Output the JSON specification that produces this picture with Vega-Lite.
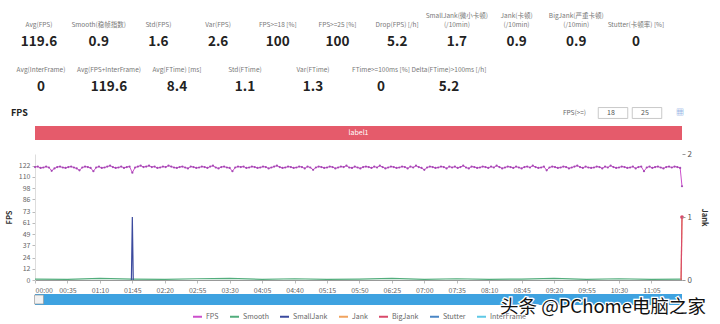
{
  "$schema": "https://vega.github.io/schema/vega-lite/v6.json",
  "background": "white",
  "padding": 5,
  "spacing": 14,
  "bounds": "flush",
  "config": {
    "view": {"stroke": null},
    "font": "Noto Sans CJK SC",
    "axis": {"labelColor": "#666", "labelFontSize": 7, "titleColor": "#333", "titleFontSize": 8, "tickColor": "#bbb", "domainColor": "#ccc", "grid": false, "tickSize": 3, "labelPadding": 2},
    "axisX": {"labelOverlap": false},
    "axisY": {"labelOverlap": false},
    "legend": {"layout": {"bottom": {"anchor": "middle"}}}
  },
  "datasets": {
    "stats": [
      {"row": 1, "slot": 0, "top": "", "label": "Avg(FPS)", "value": "119.6"},
      {"row": 1, "slot": 1, "top": "", "label": "Smooth(稳帧指数)", "value": "0.9"},
      {"row": 1, "slot": 2, "top": "", "label": "Std(FPS)", "value": "1.6"},
      {"row": 1, "slot": 3, "top": "", "label": "Var(FPS)", "value": "2.6"},
      {"row": 1, "slot": 4, "top": "", "label": "FPS>=18 [%]", "value": "100"},
      {"row": 1, "slot": 5, "top": "", "label": "FPS>=25 [%]", "value": "100"},
      {"row": 1, "slot": 6, "top": "", "label": "Drop(FPS) [/h]", "value": "5.2"},
      {"row": 1, "slot": 7, "top": "SmallJank(微小卡顿)", "label": "(/10min)", "value": "1.7"},
      {"row": 1, "slot": 8, "top": "Jank(卡顿)", "label": "(/10min)", "value": "0.9"},
      {"row": 1, "slot": 9, "top": "BigJank(严重卡顿)", "label": "(/10min)", "value": "0.9"},
      {"row": 1, "slot": 10, "top": "", "label": "Stutter(卡顿率) [%]", "value": "0"},
      {"row": 2, "slot": 0, "top": "", "label": "Avg(InterFrame)", "value": "0"},
      {"row": 2, "slot": 1, "top": "", "label": "Avg(FPS+InterFrame)", "value": "119.6"},
      {"row": 2, "slot": 2, "top": "", "label": "Avg(FTime) [ms]", "value": "8.4"},
      {"row": 2, "slot": 3, "top": "", "label": "Std(FTime)", "value": "1.1"},
      {"row": 2, "slot": 4, "top": "", "label": "Var(FTime)", "value": "1.3"},
      {"row": 2, "slot": 5, "top": "", "label": "FTime>=100ms [%]", "value": "0"},
      {"row": 2, "slot": 6, "top": "", "label": "Delta(FTime)>100ms [/h]", "value": "5.2"}
    ],
    "band": [{"label": "label1", "start": 0, "end": 698}],
    "fps": [
      {"t":0,"fps":120.5},{"t":3,"fps":121},{"t":6,"fps":119.5},{"t":9,"fps":120},{"t":12,"fps":121},{"t":15,"fps":120},{"t":18,"fps":116.5},{"t":21,"fps":119},{"t":24,"fps":120.5},{"t":27,"fps":121},
      {"t":30,"fps":120},{"t":33,"fps":119.5},{"t":36,"fps":120.5},{"t":39,"fps":121},{"t":42,"fps":120},{"t":45,"fps":119},{"t":48,"fps":117},{"t":51,"fps":120},{"t":54,"fps":121},{"t":57,"fps":120.5},
      {"t":60,"fps":119.5},{"t":63,"fps":116},{"t":66,"fps":120},{"t":69,"fps":121},{"t":72,"fps":119.5},{"t":75,"fps":120},{"t":78,"fps":121},{"t":81,"fps":122},{"t":84,"fps":120.5},{"t":87,"fps":119.5},
      {"t":90,"fps":120},{"t":93,"fps":121},{"t":96,"fps":119.5},{"t":99,"fps":120.5},{"t":102,"fps":121},{"t":105,"fps":114.5},{"t":108,"fps":120},{"t":111,"fps":121},{"t":114,"fps":122},{"t":117,"fps":120.5},
      {"t":120,"fps":121},{"t":123,"fps":122},{"t":126,"fps":120.5},{"t":129,"fps":121},{"t":132,"fps":119.5},{"t":135,"fps":120},{"t":138,"fps":121},{"t":141,"fps":120.5},{"t":144,"fps":122},{"t":147,"fps":121},
      {"t":150,"fps":120},{"t":153,"fps":119.5},{"t":156,"fps":120.5},{"t":159,"fps":121},{"t":162,"fps":120},{"t":165,"fps":119},{"t":168,"fps":121},{"t":171,"fps":120.5},{"t":174,"fps":119.5},{"t":177,"fps":120},
      {"t":180,"fps":121},{"t":183,"fps":120.5},{"t":186,"fps":119.5},{"t":189,"fps":121},{"t":192,"fps":122},{"t":195,"fps":120},{"t":198,"fps":119},{"t":201,"fps":120.5},{"t":204,"fps":121},{"t":207,"fps":120},
      {"t":210,"fps":119.5},{"t":213,"fps":116},{"t":216,"fps":120},{"t":219,"fps":121},{"t":222,"fps":120.5},{"t":225,"fps":121},{"t":228,"fps":119.5},{"t":231,"fps":120},{"t":234,"fps":121},{"t":237,"fps":120.5},
      {"t":240,"fps":119.5},{"t":243,"fps":120},{"t":246,"fps":121},{"t":249,"fps":120.5},{"t":252,"fps":119},{"t":255,"fps":120},{"t":258,"fps":121},{"t":261,"fps":122},{"t":264,"fps":120.5},{"t":267,"fps":119.5},
      {"t":270,"fps":120},{"t":273,"fps":121},{"t":276,"fps":120.5},{"t":279,"fps":119.5},{"t":282,"fps":120},{"t":285,"fps":121},{"t":288,"fps":120.5},{"t":291,"fps":119},{"t":294,"fps":121},{"t":297,"fps":120},
      {"t":300,"fps":117.5},{"t":303,"fps":120},{"t":306,"fps":121},{"t":309,"fps":120.5},{"t":312,"fps":119.5},{"t":315,"fps":120},{"t":318,"fps":121},{"t":321,"fps":120.5},{"t":324,"fps":119},{"t":327,"fps":120},
      {"t":330,"fps":121},{"t":333,"fps":120.5},{"t":336,"fps":122},{"t":339,"fps":120},{"t":342,"fps":119.5},{"t":345,"fps":121},{"t":348,"fps":120},{"t":351,"fps":119},{"t":354,"fps":120.5},{"t":357,"fps":121},
      {"t":360,"fps":120.5},{"t":363,"fps":119.5},{"t":366,"fps":121},{"t":369,"fps":120},{"t":372,"fps":122},{"t":375,"fps":120.5},{"t":378,"fps":119},{"t":381,"fps":120},{"t":384,"fps":121},{"t":387,"fps":120.5},
      {"t":390,"fps":119.5},{"t":393,"fps":120},{"t":396,"fps":121},{"t":399,"fps":120.5},{"t":402,"fps":119},{"t":405,"fps":121},{"t":408,"fps":120},{"t":411,"fps":122},{"t":414,"fps":120.5},{"t":417,"fps":119.5},
      {"t":420,"fps":117.5},{"t":423,"fps":120},{"t":426,"fps":121},{"t":429,"fps":120.5},{"t":432,"fps":119.5},{"t":435,"fps":120},{"t":438,"fps":121},{"t":441,"fps":120.5},{"t":444,"fps":119},{"t":447,"fps":121},
      {"t":450,"fps":120},{"t":453,"fps":121},{"t":456,"fps":119.5},{"t":459,"fps":120.5},{"t":462,"fps":122},{"t":465,"fps":120},{"t":468,"fps":119},{"t":471,"fps":121},{"t":474,"fps":120.5},{"t":477,"fps":119.5},
      {"t":480,"fps":120},{"t":483,"fps":121},{"t":486,"fps":120.5},{"t":489,"fps":119.5},{"t":492,"fps":121},{"t":495,"fps":120},{"t":498,"fps":122},{"t":501,"fps":120.5},{"t":504,"fps":119},{"t":507,"fps":120},
      {"t":510,"fps":121},{"t":513,"fps":120.5},{"t":516,"fps":119.5},{"t":519,"fps":121},{"t":522,"fps":120},{"t":525,"fps":119},{"t":528,"fps":120.5},{"t":531,"fps":121},{"t":534,"fps":120},{"t":537,"fps":122},
      {"t":540,"fps":120.5},{"t":543,"fps":119.5},{"t":546,"fps":120},{"t":549,"fps":121},{"t":552,"fps":117},{"t":555,"fps":120},{"t":558,"fps":121},{"t":561,"fps":120.5},{"t":564,"fps":119.5},{"t":567,"fps":120},
      {"t":570,"fps":121},{"t":573,"fps":120.5},{"t":576,"fps":119},{"t":579,"fps":120},{"t":582,"fps":121},{"t":585,"fps":122},{"t":588,"fps":120.5},{"t":591,"fps":119.5},{"t":594,"fps":121},{"t":597,"fps":120},
      {"t":600,"fps":119.5},{"t":603,"fps":120},{"t":606,"fps":121},{"t":609,"fps":120.5},{"t":612,"fps":119},{"t":615,"fps":121},{"t":618,"fps":120},{"t":621,"fps":122},{"t":624,"fps":120.5},{"t":627,"fps":119.5},
      {"t":630,"fps":120},{"t":633,"fps":121},{"t":636,"fps":120.5},{"t":639,"fps":119.5},{"t":642,"fps":120},{"t":645,"fps":121},{"t":648,"fps":119},{"t":651,"fps":120.5},{"t":654,"fps":121},{"t":657,"fps":116},
      {"t":660,"fps":120},{"t":663,"fps":121},{"t":666,"fps":119.5},{"t":669,"fps":120.5},{"t":672,"fps":121},{"t":675,"fps":120},{"t":678,"fps":119},{"t":681,"fps":120.5},{"t":684,"fps":121},{"t":687,"fps":120},
      {"t":690,"fps":121},{"t":693,"fps":120.5},{"t":696,"fps":119.5},{"t":698,"fps":100}
    ],
    "jank": [
      {"series":"Smooth","t":0,"v":0.015},{"series":"Smooth","t":35,"v":0.01},{"series":"Smooth","t":70,"v":0.025},{"series":"Smooth","t":105,"v":0.015},{"series":"Smooth","t":140,"v":0.01},{"series":"Smooth","t":175,"v":0.02},{"series":"Smooth","t":210,"v":0.025},{"series":"Smooth","t":245,"v":0.01},{"series":"Smooth","t":280,"v":0.02},{"series":"Smooth","t":315,"v":0.01},{"series":"Smooth","t":350,"v":0.015},{"series":"Smooth","t":385,"v":0.025},{"series":"Smooth","t":420,"v":0.01},{"series":"Smooth","t":455,"v":0.02},{"series":"Smooth","t":490,"v":0.01},{"series":"Smooth","t":525,"v":0.015},{"series":"Smooth","t":560,"v":0.025},{"series":"Smooth","t":595,"v":0.01},{"series":"Smooth","t":630,"v":0.02},{"series":"Smooth","t":665,"v":0.01},{"series":"Smooth","t":698,"v":0.015},
      {"series":"SmallJank","t":104,"v":0},{"series":"SmallJank","t":105,"v":1},{"series":"SmallJank","t":106,"v":0},
      {"series":"Jank","t":697,"v":0},{"series":"Jank","t":698,"v":1},
      {"series":"BigJank","t":697,"v":0},{"series":"BigJank","t":698,"v":1}
    ]
  },
  "vconcat": [
    {
      "width": 647,
      "height": 107,
      "data": {"name": "stats"},
      "layer": [
        {
          "transform": [{"filter": "datum.row == 1"}],
          "mark": {"type": "text", "fontSize": 6.5, "color": "#777", "baseline": "bottom", "dy": -14},
          "encoding": {
            "x": {"field": "slot", "type": "quantitative", "scale": {"domain": [-0.067, 10.771], "nice": false, "zero": false}, "axis": null},
            "y": {"field": "row", "type": "quantitative", "scale": {"domain": [0.178, 2.556], "nice": false, "zero": false, "reverse": true}, "axis": null},
            "text": {"field": "label"}
          }
        },
        {
          "transform": [{"filter": "datum.row == 1"}],
          "mark": {"type": "text", "fontSize": 6.5, "color": "#777", "baseline": "bottom", "dy": -23},
          "encoding": {
            "x": {"field": "slot", "type": "quantitative", "scale": {"domain": [-0.067, 10.771], "nice": false, "zero": false}, "axis": null},
            "y": {"field": "row", "type": "quantitative", "scale": {"domain": [0.178, 2.556], "nice": false, "zero": false, "reverse": true}, "axis": null},
            "text": {"field": "top"}
          }
        },
        {
          "transform": [{"filter": "datum.row == 1"}],
          "mark": {"type": "text", "fontSize": 13.5, "fontWeight": "bold", "color": "#222", "baseline": "middle"},
          "encoding": {
            "x": {"field": "slot", "type": "quantitative", "scale": {"domain": [-0.067, 10.771], "nice": false, "zero": false}, "axis": null},
            "y": {"field": "row", "type": "quantitative", "scale": {"domain": [0.178, 2.556], "nice": false, "zero": false, "reverse": true}, "axis": null},
            "text": {"field": "value"}
          }
        },
        {
          "transform": [{"filter": "datum.row == 2"}],
          "mark": {"type": "text", "fontSize": 6.5, "color": "#777", "baseline": "bottom", "dy": -14},
          "encoding": {
            "x": {"field": "slot", "type": "quantitative", "scale": {"domain": [-0.088, 9.426], "nice": false, "zero": false}, "axis": null},
            "y": {"field": "row", "type": "quantitative", "scale": {"domain": [0.178, 2.556], "nice": false, "zero": false, "reverse": true}, "axis": null},
            "text": {"field": "label"}
          }
        },
        {
          "transform": [{"filter": "datum.row == 2"}],
          "mark": {"type": "text", "fontSize": 13.5, "fontWeight": "bold", "color": "#222", "baseline": "middle"},
          "encoding": {
            "x": {"field": "slot", "type": "quantitative", "scale": {"domain": [-0.088, 9.426], "nice": false, "zero": false}, "axis": null},
            "y": {"field": "row", "type": "quantitative", "scale": {"domain": [0.178, 2.556], "nice": false, "zero": false, "reverse": true}, "axis": null},
            "text": {"field": "value"}
          }
        }
      ],
      "resolve": {"scale": {"x": "independent", "y": "shared"}}
    },
    {
      "width": 647,
      "height": 14,
      "data": {"name": "band"},
      "layer": [
        {
          "mark": {"type": "rect", "color": "#e55b6b"},
          "encoding": {
            "x": {"field": "start", "type": "quantitative", "scale": {"domain": [0, 698], "nice": false, "zero": false}, "axis": null},
            "x2": {"field": "end"}
          }
        },
        {
          "mark": {"type": "text", "color": "white", "fontSize": 7},
          "encoding": {"text": {"field": "label"}}
        },
        {
          "mark": {"type": "text", "text": "FPS", "align": "left", "dx": -24, "dy": -20, "fontSize": 9, "fontWeight": "bold", "color": "#222"},
          "encoding": {"x": {"datum": 0, "type": "quantitative"}}
        },
        {
          "mark": {"type": "text", "text": "FPS(>=)", "align": "right", "dx": -96, "dy": -20, "fontSize": 6.5, "color": "#666"},
          "encoding": {"x": {"datum": 698, "type": "quantitative"}}
        },
        {
          "mark": {"type": "point", "shape": "M-1,-0.37H1V0.37H-1Z", "size": 870, "filled": true, "fill": "white", "stroke": "#bbb", "strokeWidth": 0.8, "opacity": 1, "xOffset": -69, "yOffset": -20},
          "encoding": {"x": {"datum": 698, "type": "quantitative"}}
        },
        {
          "mark": {"type": "point", "shape": "M-1,-0.37H1V0.37H-1Z", "size": 870, "filled": true, "fill": "white", "stroke": "#bbb", "strokeWidth": 0.8, "opacity": 1, "xOffset": -35, "yOffset": -20},
          "encoding": {"x": {"datum": 698, "type": "quantitative"}}
        },
        {
          "mark": {"type": "text", "text": "18", "dx": -71, "dy": -20, "fontSize": 7, "color": "#555"},
          "encoding": {"x": {"datum": 698, "type": "quantitative"}}
        },
        {
          "mark": {"type": "text", "text": "25", "dx": -37, "dy": -20, "fontSize": 7, "color": "#555"},
          "encoding": {"x": {"datum": 698, "type": "quantitative"}}
        },
        {
          "mark": {"type": "text", "text": "▦", "dx": -2, "dy": -20, "fontSize": 8, "color": "#5b8fd6"},
          "encoding": {"x": {"datum": 698, "type": "quantitative"}}
        }
      ]
    },
    {
      "width": 647,
      "height": 126,
      "layer": [
        {
          "data": {"name": "fps"},
          "encoding": {
            "x": {"field": "t", "type": "quantitative", "scale": {"domain": [0, 698], "nice": false, "zero": false},
              "axis": {"values": [0, 35, 70, 105, 140, 175, 210, 245, 280, 315, 350, 385, 420, 455, 490, 525, 560, 595, 630, 665],
                "labelExpr": "pad(floor(datum.value / 60) + '', 2, '0', 'left') + ':' + pad((datum.value % 60) + '', 2, '0', 'left')",
                "labelOverlap": false, "labelFlush": true, "title": null, "domainColor": "#999", "labelPadding": 3}},
            "y": {"field": "fps", "type": "quantitative", "scale": {"domain": [0, 134.4], "nice": false},
              "axis": {"values": [0, 12, 24, 37, 49, 61, 73, 86, 98, 110, 122], "title": "FPS", "titleFontWeight": "bold", "titleFontSize": 7.5, "titlePadding": 5, "domainColor": "#ddd"}}
          },
          "layer": [
            {
              "mark": {"type": "line", "strokeWidth": 1},
              "encoding": {
                "color": {"datum": "FPS", "type": "nominal", "title": null,
                  "scale": {"domain": ["FPS", "Smooth", "SmallJank", "Jank", "BigJank", "Stutter", "InterFrame"],
                    "range": ["#cc4fcc", "#52ad7c", "#3b4a9e", "#f0a35e", "#d94a6a", "#4a86c5", "#5ec8e6"]},
                  "legend": {"orient": "bottom", "direction": "horizontal", "title": null, "symbolType": "stroke", "symbolStrokeWidth": 2, "symbolSize": 81, "labelFontSize": 7, "labelColor": "#666", "labelOffset": 3, "columnPadding": 7, "offset": -5}}
              }
            },
            {
              "mark": {"type": "point", "filled": true, "size": 5, "color": "#9d3fae", "opacity": 0.9}
            }
          ]
        },
        {
          "data": {"name": "jank"},
          "encoding": {
            "x": {"field": "t", "type": "quantitative", "axis": {"values": [0, 35, 70, 105, 140, 175, 210, 245, 280, 315, 350, 385, 420, 455, 490, 525, 560, 595, 630, 665],
                "labelExpr": "pad(floor(datum.value / 60) + '', 2, '0', 'left') + ':' + pad((datum.value % 60) + '', 2, '0', 'left')",
                "labelOverlap": false, "labelFlush": true, "title": null, "domainColor": "#999", "labelPadding": 3}},
            "y": {"field": "v", "type": "quantitative", "scale": {"domain": [0, 2], "nice": false},
              "axis": {"orient": "right", "values": [0, 1, 2], "labelExpr": "datum.value + ''", "labelOverlap": false, "labelFlush": false, "labelBound": false, "labelBaseline": "middle", "zindex": 2, "labelColor": "#555", "labelFontSize": 8, "tickColor": "#999", "title": "Jank", "titleAngle": 90, "titleFontWeight": "bold", "titleFontSize": 7.5, "titlePadding": 8, "domain": false}}
          },
          "layer": [
            {
              "mark": {"type": "line", "strokeWidth": 1.2},
              "encoding": {
                "color": {"field": "series", "type": "nominal", "title": null},
                "detail": {"field": "series"}
              }
            },
            {
              "transform": [{"filter": "datum.series == 'BigJank' && datum.v > 0"}],
              "mark": {"type": "point", "filled": true, "size": 14, "opacity": 1},
              "encoding": {
                "color": {"field": "series", "type": "nominal", "title": null}
              }
            }
          ]
        }
      ],
      "resolve": {"scale": {"y": "independent"}}
    },
    {
      "width": 647,
      "height": 11,
      "data": {"name": "band"},
      "layer": [
        {
          "mark": {"type": "rect", "color": "#3ea2e0"},
          "encoding": {
            "x": {"field": "start", "type": "quantitative", "scale": {"domain": [0, 698], "nice": false, "zero": false}, "axis": null},
            "x2": {"field": "end"}
          }
        },
        {
          "mark": {"type": "point", "shape": "square", "size": 80, "filled": true, "fill": "#f2f2f2", "stroke": "#999", "strokeWidth": 0.7, "opacity": 1, "xOffset": 4},
          "encoding": {"x": {"datum": 0, "type": "quantitative"}}
        },
        {
          "mark": {"type": "text", "text": "头条 @PChome电脑之家", "align": "right", "dx": 24, "dy": 7, "fontSize": 18.5, "font": "Noto Sans CJK SC", "fill": "white", "stroke": "white", "strokeWidth": 2.5},
          "encoding": {"x": {"datum": 698, "type": "quantitative"}}
        },
        {
          "mark": {"type": "text", "text": "头条 @PChome电脑之家", "align": "right", "dx": 24, "dy": 7, "fontSize": 18.5, "font": "Noto Sans CJK SC", "fill": "#111"},
          "encoding": {"x": {"datum": 698, "type": "quantitative"}}
        }
      ]
    }
  ],
  "resolve": {"scale": {"color": "shared"}, "legend": {"color": "shared"}}
}
